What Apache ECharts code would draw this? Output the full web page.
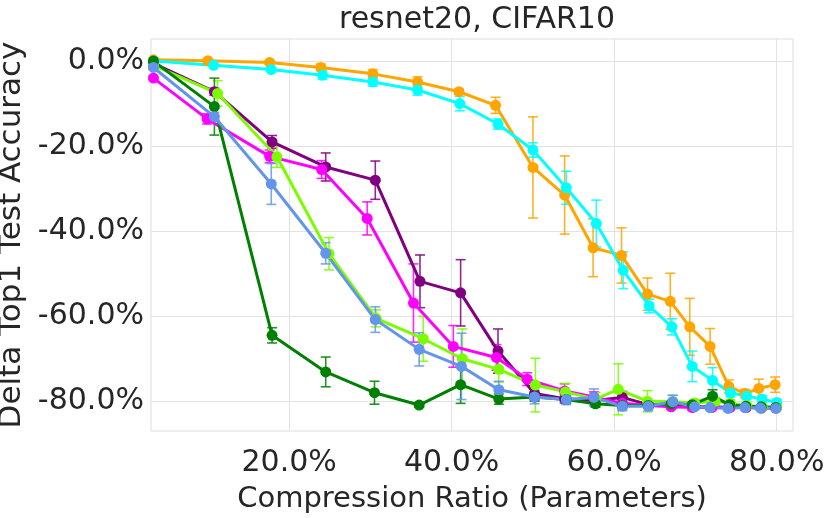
<!DOCTYPE html>
<html>
<head>
<meta charset="utf-8">
<script src="https://cdn.jsdelivr.net/npm/echarts@6/dist/echarts.min.js"></script>
<style>
  html, body { margin: 0; padding: 0; background: #fff; }
  #chart { width: 831px; height: 518px; }
</style>
</head>
<body>
<div id="chart"></div>
<script>
// values, in percent
const xTicks = [20, 40, 60, 80]
const yTicks = [-80, -60, -40, -20, 0]

const xOrange = [3.3, 10.0, 17.6, 23.9, 30.3, 35.8, 40.9, 45.4, 50.0, 53.9, 57.4, 60.9, 64.1, 66.9, 69.3, 71.8, 74.1, 76.1, 77.8, 79.8]
const yOrange = [0.3, 0.1, -0.3, -1.5, -3.0, -4.9, -7.2, -10.4, -25.0, -31.5, -43.9, -45.7, -54.8, -56.5, -62.5, -67.1, -76.5, -78.2, -77.0, -76.1]
const eOrange = [0.2, 0.3, 0.4, 0.8, 1.0, 1.2, 0.6, 1.9, 11.9, 9.2, 6.8, 6.5, 3.8, 6.6, 6.7, 4.2, 1.5, 1.0, 2.2, 1.8]

const xCyan = [3.35, 10.7, 17.8, 24.1, 30.3, 35.8, 41.0, 45.7, 50.0, 54.1, 57.8, 61.1, 64.3, 67.1, 69.6, 72.1, 74.3, 76.3, 78.2, 80.0]
const yCyan = [0.0, -1.0, -2.0, -3.3, -4.9, -6.8, -10.0, -14.8, -20.9, -29.8, -38.2, -49.2, -57.6, -62.5, -71.8, -75.1, -78.0, -78.8, -79.5, -80.3]
const eCyan = [0.2, 0.3, 0.4, 1.0, 1.0, 1.2, 1.7, 1.2, 1.7, 3.9, 5.5, 4.3, 1.6, 1.9, 3.6, 3.0, 1.0, 0.8, 0.8, 0.8]

const xPurple = [3.3, 10.8, 17.9, 24.5, 30.6, 36.1, 41.1, 45.7, 50.2, 53.9, 57.6, 61.0, 64.2, 67.0, 69.6, 72.0, 74.2, 76.2, 78.1, 79.9]
const yPurple = [-0.5, -7.2, -19.0, -24.9, -28.0, -51.8, -54.5, -68.2, -78.2, -79.4, -79.8, -79.1, -80.8, -81.0, -81.3, -81.3, -81.5, -81.5, -81.6, -81.6]
const ePurple = [0.3, 0.8, 1.5, 3.3, 4.5, 6.2, 7.8, 5.2, 1.5, 1.0, 1.0, 1.4, 0.8, 0.5, 0.5, 0.5, 0.5, 0.5, 0.5, 0.5]

const xMagenta = [3.3, 9.9, 17.6, 24.0, 29.6, 35.3, 40.2, 45.5, 49.3, 53.9, 57.5, 61.0, 64.2, 67.0, 69.6, 72.0, 74.2, 76.2, 78.1, 79.9]
const yMagenta = [-4.0, -13.6, -22.4, -25.5, -37.0, -56.9, -67.1, -69.7, -74.8, -77.6, -79.0, -80.5, -81.0, -81.3, -81.5, -81.5, -81.5, -81.5, -81.5, -81.5]
const eMagenta = [0.3, 1.2, 1.5, 2.1, 3.9, 9.2, 4.9, 3.0, 1.5, 1.7, 1.2, 0.8, 0.5, 0.5, 0.5, 0.5, 0.5, 0.5, 0.5, 0.5]

const xLime = [3.3, 11.2, 18.5, 24.9, 30.7, 36.5, 41.3, 45.8, 50.3, 54.0, 57.7, 60.5, 64.1, 67.2, 69.9, 72.4, 74.3, 76.3, 78.2, 80.0]
const yLime = [-1.0, -7.6, -22.5, -45.3, -60.5, -65.3, -70.0, -72.5, -76.2, -77.8, -79.5, -77.2, -80.0, -80.1, -80.4, -80.0, -80.5, -81.0, -81.3, -81.5]
const eLime = [0.3, 3.0, 2.5, 3.8, 2.0, 5.3, 7.0, 3.0, 6.3, 2.0, 1.5, 6.0, 2.5, 1.5, 0.8, 0.8, 0.8, 0.5, 0.5, 0.5]

const xGreen = [3.3, 10.8, 17.9, 24.5, 30.5, 36.0, 41.1, 45.8, 50.2, 54.1, 57.7, 61.0, 64.2, 67.0, 69.6, 72.1, 74.2, 76.2, 78.1, 79.9]
const yGreen = [0.0, -10.7, -64.5, -73.1, -78.0, -80.9, -76.1, -79.5, -79.0, -79.6, -80.6, -81.0, -81.0, -80.6, -80.8, -78.8, -80.8, -81.2, -81.3, -81.5]
const eGreen = [0.2, 6.7, 1.8, 3.5, 2.7, 0.5, 4.4, 1.2, 1.0, 0.8, 0.8, 0.8, 0.5, 0.5, 0.5, 1.5, 0.5, 0.5, 0.5, 0.5]

const xBlue = [3.3, 10.8, 17.8, 24.5, 30.6, 36.0, 41.2, 45.8, 50.2, 54.1, 57.5, 61.0, 64.2, 67.2, 69.9, 71.8, 74.0, 76.1, 78.0, 79.9]
const yBlue = [-1.5, -13.1, -28.9, -45.2, -60.8, -67.8, -71.8, -77.3, -79.0, -79.6, -79.1, -81.2, -81.2, -80.1, -81.3, -81.5, -81.7, -81.5, -81.6, -81.7]
const eBlue = [0.3, 1.0, 4.8, 2.5, 3.0, 3.9, 7.8, 2.0, 1.6, 1.2, 2.0, 1.0, 1.0, 1.5, 0.5, 0.5, 0.5, 0.5, 0.5, 0.5]

const groups = [
  { color: '#FFA500', x: xOrange, y: yOrange, e: eOrange },
  { color: '#00FFFF', x: xCyan, y: yCyan, e: eCyan },
  { color: '#800080', x: xPurple, y: yPurple, e: ePurple },
  { color: '#FF00FF', x: xMagenta, y: yMagenta, e: eMagenta },
  { color: '#7CFC00', x: xLime, y: yLime, e: eLime },
  { color: '#008000', x: xGreen, y: yGreen, e: eGreen },
  { color: '#6495ED', x: xBlue, y: yBlue, e: eBlue },
]

const textColor = '#262626'
const font = 'DejaVu Sans'

let chart = echarts.init(document.getElementById('chart'))

let series = []
groups.forEach(g => {
  // error bars: vertical segment with caps
  series.push({
    type: 'custom',
    data: g.x.map((v, i) => [v, g.y[i] - g.e[i], g.y[i] + g.e[i]]),
    encode: { x: 0, y: [1, 2] },
    renderItem: (params, api) => {
      let x = api.value(0)
      let lo = api.coord([x, api.value(1)])
      let hi = api.coord([x, api.value(2)])
      let w = 5
      let style = { stroke: g.color, lineWidth: 1.6, opacity: 0.85 }
      return {
        type: 'group',
        children: [
          { type: 'line', shape: { x1: lo[0], y1: lo[1], x2: hi[0], y2: hi[1] }, style },
          { type: 'line', shape: { x1: lo[0] - w, y1: lo[1], x2: lo[0] + w, y2: lo[1] }, style },
          { type: 'line', shape: { x1: hi[0] - w, y1: hi[1], x2: hi[0] + w, y2: hi[1] }, style },
        ],
      }
    },
    silent: true,
  })
  series.push({
    type: 'line',
    data: g.x.map((v, i) => [v, g.y[i]]),
    symbol: 'circle',
    symbolSize: 11,
    showSymbol: true,
    lineStyle: { color: g.color, width: 3 },
    itemStyle: { color: g.color },
  })
})

let options = {
  animation: false,
  title: {
    text: 'resnet20, CIFAR10',
    left: 472,
    top: 0,
    textAlign: 'center',
    textStyle: { fontFamily: font, fontSize: 30, fontWeight: 'normal', color: textColor },
  },
  grid: {
    left: 151,
    right: 38,
    top: 39,
    bottom: 87,
    containLabel: false,
    outerBoundsMode: 'none',
    show: true,
    borderColor: '#dddddd',
    borderWidth: 1,
  },
  xAxis: {
    type: 'value',
    min: 3.0,
    max: 82.0,
    name: 'Compression Ratio (Parameters)',
    nameLocation: 'middle',
    nameGap: 54,
    nameTextStyle: { fontFamily: font, fontSize: 29, color: textColor },
    axisLine: { show: false },
    axisTick: { show: false, customValues: xTicks },
    axisLabel: {
      customValues: xTicks,
      formatter: v => v.toFixed(1) + '%',
      fontFamily: font,
      fontSize: 30,
      color: textColor,
      margin: 17,
    },
    splitLine: { show: true, lineStyle: { color: '#e2e2e2', width: 1 } },
  },
  yAxis: {
    type: 'value',
    min: -87.0,
    max: 5.2,
    name: 'Delta Top1 Test Accuracy',
    nameLocation: 'middle',
    nameGap: 115,
    nameTextStyle: { fontFamily: font, fontSize: 31, color: textColor },
    axisLine: { show: false },
    axisTick: { show: false, customValues: yTicks },
    axisLabel: {
      customValues: yTicks,
      formatter: v => v.toFixed(1) + '%',
      fontFamily: font,
      fontSize: 30,
      color: textColor,
      margin: 7,
    },
    splitLine: { show: true, lineStyle: { color: '#e2e2e2', width: 1 } },
  },
  series: series,
}
chart.setOption(options)
</script>
</body>
</html>
